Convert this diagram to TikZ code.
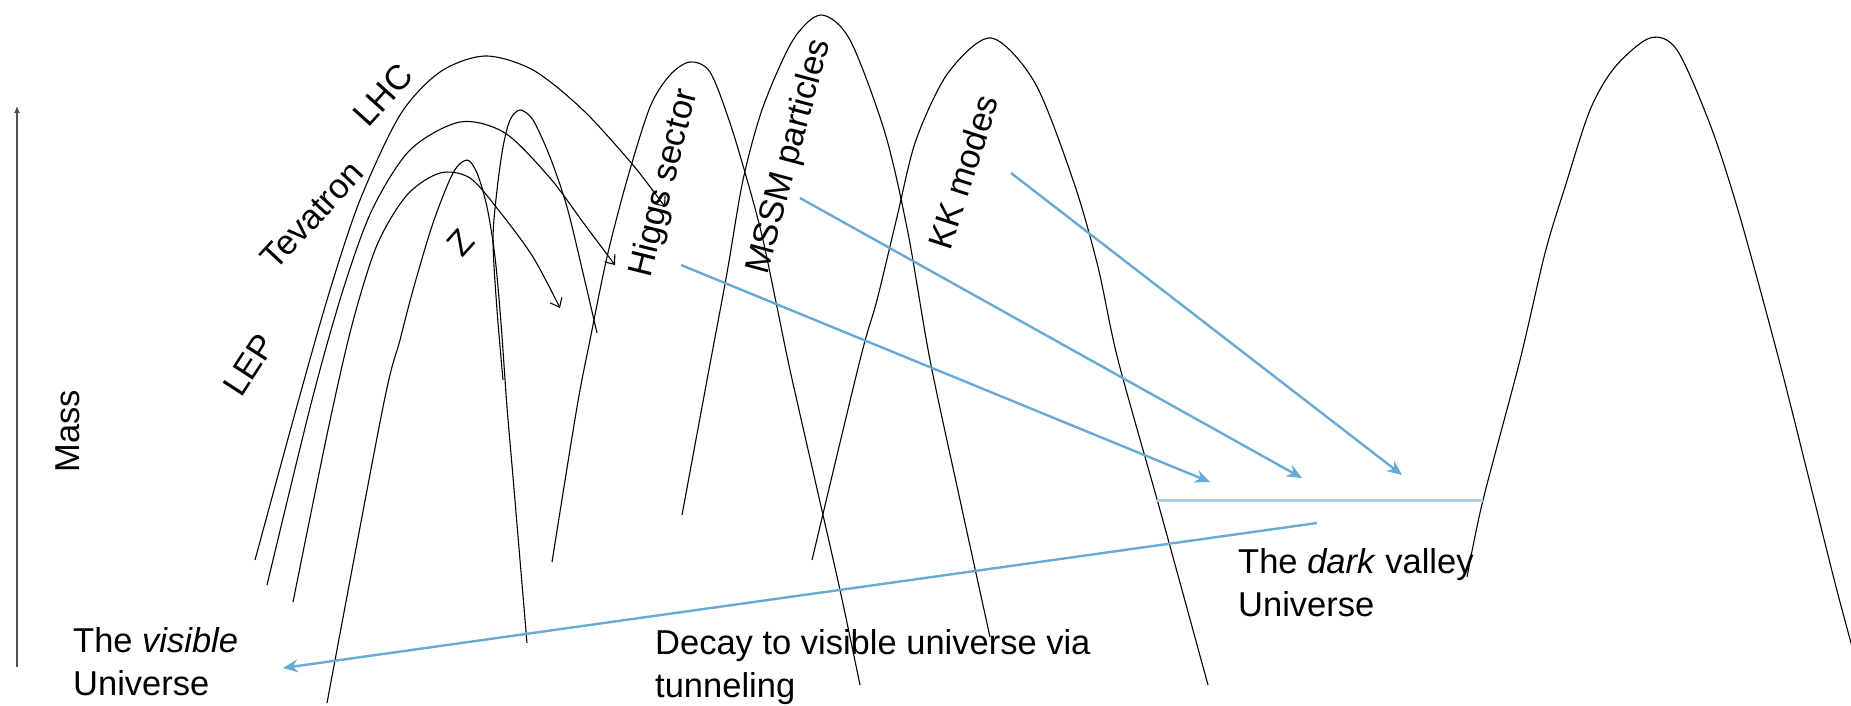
\documentclass[tikz,border=0pt]{standalone}
\usepackage{fontspec}
\setmainfont{Liberation Sans}
\usepackage{tikz}
\usetikzlibrary{arrows.meta}
\definecolor{beamblue}{RGB}{104,170,212}
\definecolor{valleyblue}{RGB}{170,207,230}
\definecolor{axisgray}{RGB}{80,80,80}
\tikzset{
  peak/.style     = {draw=black, line width=1.1pt},
  collider/.style = {peak, -{Straight Barb[length=8pt,width=13pt]}},
  beam/.style     = {draw=beamblue, line width=2.4pt,
                     -{Stealth[length=15pt,width=13pt,inset=5pt]}},
  valley/.style   = {draw=valleyblue, line width=3pt},
  txt/.style      = {inner sep=0pt, align=left,
                     font=\fontsize{34.5}{43}\selectfont},
  partname/.style = {inner sep=0pt, font=\fontsize{34.5}{41}\selectfont},
}

\begin{document}
\begin{tikzpicture}[x=1pt, y=-1pt]
  \useasboundingbox (0,0) rectangle (1851,705);

  % mass axis
  \coordinate (axisfoot) at (17,667);
  \coordinate (axistop) at (17,106);
  \draw[axisgray, line width=1.2pt, -{Latex[length=7pt,width=6pt]}] (axisfoot) -- (axistop);
  \node[txt, rotate=90] (mass) at (68,431) {Mass};

  % collider reach
  \draw[collider] plot[smooth] coordinates {(255,560) (300,395) (330,290) (360,200)
    (400,115) (440,72) (485,56) (533,70) (583,110) (633,165) (665,207)};
  \draw[collider] plot[smooth] coordinates {(267,585) (312,400) (343,290) (372,210)
    (410,150) (460,122) (505,133) (550,178) (585,225) (615,265)};
  \draw[collider] plot[smooth] coordinates {(293,602) (328,430) (352,325) (377,245)
    (407,195) (440,173) (470,178) (500,212) (533,257) (560,308)};

  % resonances
  \draw[peak] plot[smooth] coordinates {(327,703) (383,407) (400,340) (413,290)
    (433,223) (453,173) (467,160) (477,173) (487,207) (495,257) (501,323) (507,407)
    (513,477) (520,560) (527,643)};
  \draw[peak] plot[smooth] coordinates {(503,380) (497,310) (493,240) (497,190)
    (503,147) (510,120) (520,110) (533,120) (550,157) (567,207) (583,273) (597,333)};
  \draw[peak] plot[smooth] coordinates {(552,562) (577,407) (590,340) (607,257)
    (627,180) (650,107) (670,75) (690,62) (710,72) (730,123) (750,190) (763,240)
    (777,307) (790,370) (815,480) (840,590) (860,685)};
  \draw[peak] plot[smooth] coordinates {(682,515) (707,380) (727,273) (743,180)
    (763,107) (793,40) (821,15) (850,40) (885,133) (908,233) (930,360) (960,500)
    (990,637)};
  \draw[peak] plot[smooth] coordinates {(812,560) (860,360) (877,300) (897,217)
    (916,140) (948,73) (991,38) (1035,83) (1074,183) (1098,267) (1118,360)
    (1160,510) (1208,685)};
  \draw[peak] plot[smooth] coordinates {(1467,577) (1483,500) (1520,360) (1545,253)
    (1565,187) (1590,110) (1615,67) (1650,38) (1677,50) (1711,127) (1740,217)
    (1779,360) (1810,483) (1835,583) (1851,643) (1858,670)};

  % labels
  \node[partname, rotate=57] (lep) at (249,365) {LEP};
  \node[partname, rotate=47] (tevatron) at (312,215) {Tevatron};
  \node[partname, rotate=48] (lhc) at (383,95) {LHC};
  \node[partname, rotate=48] (zboson) at (461,243) {Z};
  \node[partname, rotate=76] (higgs) at (665,183) {Higgs sector};
  \node[partname, rotate=75] (mssm) at (790,157) {MSSM particles};
  \node[partname, rotate=72] (kk) at (963,172) {KK modes};

  \node[txt, anchor=west] (visible) at (73,662) {The \textit{visible}\\Universe};
  \node[txt, anchor=west] (decay) at (655,667) {Decay to visible universe via\\tunneling};
  \node[txt, anchor=west] (dark) at (1238,583) {The \textit{dark} valley\\Universe};

  % into the valley and back
  \coordinate (higgsfrom) at (681,265);
  \coordinate (higgsto) at (1210,482);
  \coordinate (mssmfrom) at (800,198);
  \coordinate (mssmto) at (1302,478);
  \coordinate (kkfrom) at (1011,173);
  \coordinate (kkto) at (1402,475);
  \coordinate (floorleft) at (1157,500);
  \coordinate (floorright) at (1483,500);
  \coordinate (tunnelfrom) at (1317,523);
  \coordinate (tunnelto) at (283,668);

  \draw[valley] (floorleft) -- (floorright);
  \draw[beam] (higgsfrom) -- (higgsto);
  \draw[beam] (mssmfrom) -- (mssmto);
  \draw[beam] (kkfrom) -- (kkto);
  \draw[beam] (tunnelfrom) -- (tunnelto);
\end{tikzpicture}
\end{document}
